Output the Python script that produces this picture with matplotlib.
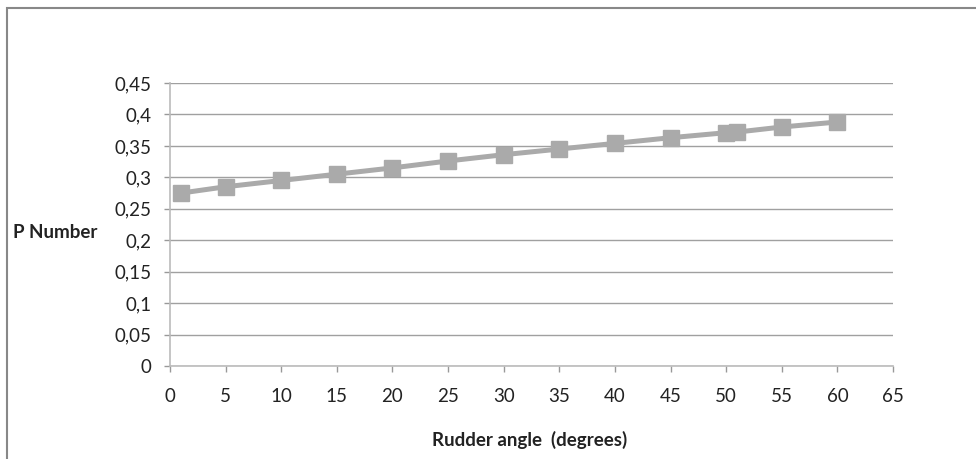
import matplotlib.pyplot as plt
from matplotlib.patches import Rectangle
from matplotlib.ticker import FuncFormatter

# Dados
angulo = [1, 5, 10, 15, 20, 25, 30, 35, 40, 45, 50, 51, 55, 60]
p_number = [0.275, 0.285, 0.295, 0.305, 0.315, 0.326, 0.336, 0.345,
            0.354, 0.363, 0.371, 0.372, 0.380, 0.388]

x_ticks = list(range(0, 70, 5))
y_ticks = [i * 0.05 for i in range(10)]

plt.rcParams['font.family'] = ['Lato', 'DejaVu Sans']

fig = plt.figure(figsize=(9.76, 4.59), dpi=100)
W, H = 976, 459
ax = fig.add_axes([170 / W, 1 - 366 / H, (893 - 170) / W, (366 - 83) / H])

ax.plot(angulo, p_number, color='#aaaaaa', lw=3.6, marker='s', ms=11.5,
        mec='#aaaaaa', mfc='#aaaaaa', zorder=3, clip_on=False)

ax.set_xlim(0, 65)
ax.set_ylim(0, 0.45)
ax.set_xticks(x_ticks)
ax.set_yticks(y_ticks)
ax.yaxis.set_major_formatter(FuncFormatter(lambda v, p: ('%g' % round(v, 2)).replace('.', ',')))

ax.grid(axis='y', color='#a0a0a0', lw=1.0)
ax.set_axisbelow(True)
for s in ['top', 'right']:
    ax.spines[s].set_visible(False)
ax.spines['left'].set_color('#bbbbbb')
ax.spines['bottom'].set_color('#bbbbbb')
ax.spines['left'].set_linewidth(1.2)
ax.spines['bottom'].set_linewidth(1.2)
ax.tick_params(axis='y', length=4.5, width=1, color='#999999', pad=9, labelsize=13.5, labelcolor='#222222')
ax.tick_params(axis='x', length=4.5, width=1, color='#999999', pad=11, labelsize=13.5, labelcolor='#222222')

# Rótulos dos eixos
fig.text(13 / W, 1 - 232 / H, 'P Number', fontsize=13.5, fontweight='bold', va='center', ha='left', color='#222222')
fig.text(530 / W, 1 - 440 / H, 'Rudder angle  (degrees)', fontsize=13.5, fontweight='bold', va='center', ha='center', color='#222222')

# Borda do gráfico
fig.patches.append(Rectangle((7 / W, -0.5), 2, 1.5 - 8 / H, transform=fig.transFigure,
                             fill=False, edgecolor='#888888', lw=1.5))

fig.savefig('out.png', dpi=100)
